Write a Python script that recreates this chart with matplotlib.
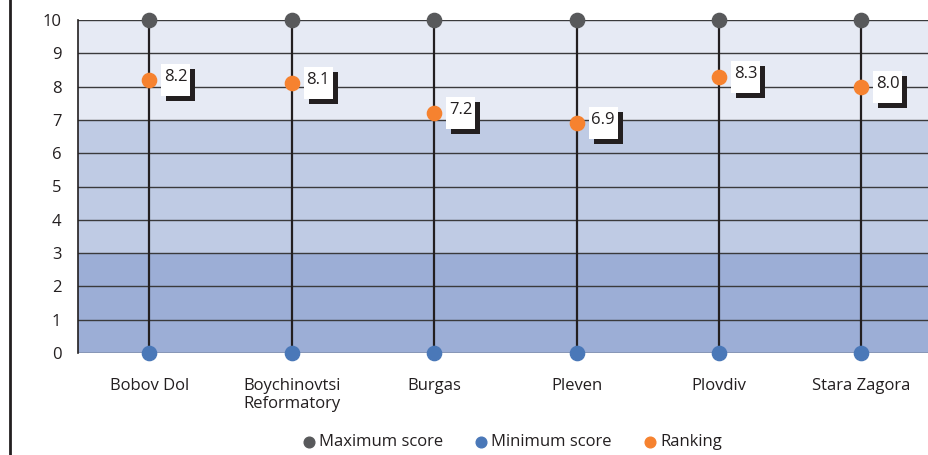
import matplotlib.pyplot as plt
from matplotlib.lines import Line2D
from matplotlib.patches import Rectangle
from matplotlib.transforms import Affine2D, ScaledTranslation

plt.rcParams['font.family'] = ['Open Sans', 'DejaVu Sans']

sites = ['Bobov Dol', 'Boychinovtsi\nReformatory', 'Burgas', 'Pleven', 'Plovdiv', 'Stara Zagora']
max_score = [10, 10, 10, 10, 10, 10]
min_score = [0, 0, 0, 0, 0, 0]
ranking = [8.2, 8.1, 7.2, 6.9, 8.3, 8.0]

grey = '#58595b'
blue = '#4a78b8'
orange = '#f6822f'
ink = '#231f20'

fig = plt.figure(figsize=(9.29, 4.55), dpi=100)
ax = fig.add_axes([78 / 929, 1 - 353 / 455, 1 - 78 / 929 + 0.004, 333 / 455])

# background bands
ax.axhspan(0, 3, color='#9caed6', zorder=0, lw=0)
ax.axhspan(3, 7, color='#bfcbe4', zorder=0, lw=0)
ax.axhspan(7, 10, color='#e6eaf4', zorder=0, lw=0)
for y in range(11):
    ax.axhline(y, color='#3a3a3c', lw=1.0, zorder=1)

x = range(len(sites))
ax.vlines(x, min_score, max_score, color=ink, lw=1.6, zorder=2)
ax.scatter(x, max_score, s=105, color=grey, zorder=3, clip_on=False, label='Maximum score')
ax.scatter(x, min_score, s=105, color=blue, zorder=3, clip_on=False, label='Minimum score')
ax.scatter(x, ranking, s=105, color=orange, zorder=3, clip_on=False, label='Ranking')

# value labels: white box with a dark drop shadow, sized in pixels next to each point
for i, v in enumerate(ranking):
    tr = Affine2D() + ScaledTranslation(i, v, ax.transData)
    ax.add_patch(Rectangle((17, -21), 29, 32, transform=tr, fc=ink, ec='none', zorder=4, clip_on=False))
    ax.add_patch(Rectangle((12, -16), 29, 32, transform=tr, fc='white', ec='none', zorder=5, clip_on=False))
    ax.annotate('%.1f' % v, (i, v), xytext=(26.5, 3), textcoords='offset pixels',
                fontsize=12, va='center', ha='center', color=ink, zorder=6)

ax.set_xlim(-0.5, 5.5)
ax.set_ylim(0, 10)
ax.set_yticks(range(11))
ax.set_xticks(list(x))
ax.set_xticklabels(sites)
ax.tick_params(length=0, labelsize=12, colors=ink)
ax.tick_params(axis='y', pad=12)
ax.tick_params(axis='x', pad=18)
for s in ['top', 'right', 'bottom']:
    ax.spines[s].set_visible(False)
ax.spines['left'].set_color(ink)
ax.spines['left'].set_linewidth(1.2)

fig.legend(loc='center', bbox_to_anchor=(507 / 929, 1 - 442 / 455), ncol=3, frameon=False,
           fontsize=12, handletextpad=-0.4, columnspacing=1.3, markerscale=0.75, borderaxespad=0,
           labelcolor=ink)

fig.add_artist(Line2D([10 / 929, 10 / 929], [0, 1], color=ink, lw=2, transform=fig.transFigure))

fig.savefig('out.png', dpi=100)
